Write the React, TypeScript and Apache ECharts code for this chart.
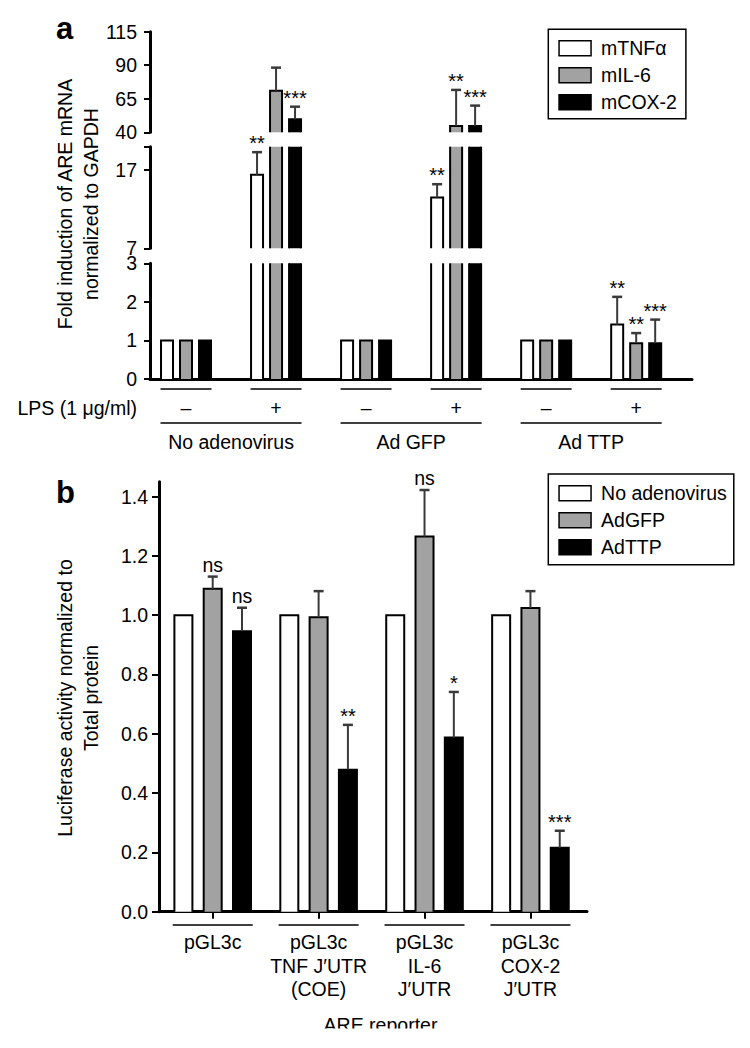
import React, { useEffect, useRef } from "react";
import * as echarts from "echarts";

const FONT = '"Liberation Sans", Arial, Helvetica, sans-serif';
const FS = 19.5;

// ---------- Panel a data ----------
const conditionsA = [0, 1, 2, 3, 4, 5];
const lpsLabels = ["–", "+", "–", "+", "–", "+"];
const adenoGroups = ["No adenovirus", "Ad GFP", "Ad TTP"];
const adenoSpans = [
  [0, 1],
  [2, 3],
  [4, 5],
];
const seriesNamesA = ["mTNFα", "mIL-6", "mCOX-2"];
const tnfValues = [1, 16.4, 1, 13.5, 1, 1.41];
const tnfErrTop = [null, 19.3, null, 15.2, null, 2.13];
const tnfSig = ["", "**", "", "**", "", "**"];
const il6Values = [1, 71, 1, 44.7, 1, 0.93];
const il6ErrTop = [null, 88.2, null, 71.6, null, 1.19];
const il6Sig = ["", "", "", "**", "", "**"];
const coxValues = [1, 49.7, 1, 44.7, 1, 0.93];
const coxErrTop = [null, 59.1, null, 59.9, null, 1.54];
const coxSig = ["", "***", "", "***", "", "***"];

// broken axis segments (top, middle, bottom)
const segTopRange = [40, 115];
const segTopTicks = [40, 65, 90, 115];
const segMidRange = [7, 20];
const segMidTicks = [7, 17, 20];
const segMidLabels = [7, 17];
const segLowRange = [0, 3];
const segLowTicks = [0, 1, 2, 3];

// ---------- Panel b data ----------
const reportersB = [
  "pGL3c",
  "pGL3c\nTNF J′UTR\n(COE)",
  "pGL3c\nIL-6\nJ′UTR",
  "pGL3c\nCOX-2\nJ′UTR",
];
const seriesNamesB = ["No adenovirus", "AdGFP", "AdTTP"];
const noAdenoB = [1, 1, 1, 1];
const noAdenoErrB = [null, null, null, null];
const noAdenoSigB = ["", "", "", ""];
const adGfpB = [1.089, 0.993, 1.265, 1.024];
const adGfpErrB = [1.13, 1.081, 1.422, 1.081];
const adGfpSigB = ["ns", "", "ns", ""];
const adTtpB = [0.946, 0.479, 0.587, 0.2155];
const adTtpErrB = [1.025, 0.63, 0.741, 0.273];
const adTtpSigB = ["ns", "**", "*", "***"];
const yTicksB = [0, 0.2, 0.4, 0.6, 0.8, 1.0, 1.2, 1.4];
const yRangeB = [0, 1.45];

const FILLS = ["#ffffff", "#a2a2a2", "#000000"];
const ERR_COLOR = "#3a3a3a";

function txtStyle(text: string, size: number, align: string, vAlign: string, extra: any = {}) {
  return {
    text,
    fill: "#000",
    fontSize: size,
    fontFamily: FONT,
    align,
    verticalAlign: vAlign,
    textAlign: align,
    textVerticalAlign: vAlign,
    ...extra,
  };
}

function makeBarRender(offset: number, width: number, fill: string, sig: string[]) {
  return (params: any, api: any) => {
    const cs = params.coordSys;
    const top = cs.y;
    const bottom = cs.y + cs.height;
    const i = api.value(0);
    const v = api.value(1);
    const e = api.value(2);
    const p = api.coord([i, v]);
    const cx = p[0] + offset;
    const yv = p[1];
    const l = cx - width / 2;
    const r = cx + width / 2;
    const clamp = (y: number) => Math.min(bottom, Math.max(top, y));
    const children: any[] = [];
    const outline = { stroke: "#000", lineWidth: 2, fill: "none" };
    if (yv < bottom - 0.5) {
      const yt = clamp(yv);
      children.push({
        type: "rect",
        shape: { x: l, y: yt, width, height: bottom - yt },
        style: { fill },
      });
      if (yv >= top) {
        children.push({
          type: "polyline",
          shape: { points: [[l, bottom], [l, yv], [r, yv], [r, bottom]] },
          style: outline,
        });
      } else {
        children.push({ type: "line", shape: { x1: l, y1: bottom, x2: l, y2: top }, style: outline });
        children.push({ type: "line", shape: { x1: r, y1: bottom, x2: r, y2: top }, style: outline });
      }
    }
    let labelY: number | null = yv >= top && yv <= bottom ? yv : null;
    if (Number.isFinite(e)) {
      const ye = api.coord([i, e])[1];
      const a = clamp(yv);
      const b = clamp(ye);
      if (a - b > 0.5) {
        children.push({
          type: "line",
          shape: { x1: cx, y1: a, x2: cx, y2: b },
          style: { stroke: ERR_COLOR, lineWidth: 2 },
        });
      }
      if (ye >= top && ye <= bottom) {
        children.push({
          type: "line",
          shape: { x1: cx - 5, y1: ye, x2: cx + 5, y2: ye },
          style: { stroke: ERR_COLOR, lineWidth: 2.5 },
        });
        labelY = ye;
      } else {
        labelY = null;
      }
    }
    const s = sig[params.dataIndex];
    if (s && labelY !== null) {
      const isStar = s.indexOf("*") >= 0;
      children.push({
        type: "text",
        x: cx,
        y: labelY + (isStar ? 1 : -2),
        style: txtStyle(s, isStar ? 20 : FS, "center", "bottom"),
      });
    }
    return { type: "group", children };
  };
}

function buildOption() {
  const specsA = [
    { name: seriesNamesA[0], values: tnfValues, errs: tnfErrTop, sig: tnfSig },
    { name: seriesNamesA[1], values: il6Values, errs: il6ErrTop, sig: il6Sig },
    { name: seriesNamesA[2], values: coxValues, errs: coxErrTop, sig: coxSig },
  ];
  const specsB = [
    { name: seriesNamesB[0], values: noAdenoB, errs: noAdenoErrB, sig: noAdenoSigB },
    { name: seriesNamesB[1], values: adGfpB, errs: adGfpErrB, sig: adGfpSigB },
    { name: seriesNamesB[2], values: adTtpB, errs: adTtpErrB, sig: adTtpSigB },
  ];
  const offsetsA = [-19, 0, 19];
  const offsetsB = [-29.3, 0, 29.3];
  const segs = [
    { range: segTopRange, ticks: segTopTicks, labels: segTopTicks },
    { range: segMidRange, ticks: segMidTicks, labels: segMidLabels },
    { range: segLowRange, ticks: segLowTicks, labels: segLowTicks },
  ];

  const grid = [
    { left: 150, top: 31.7, width: 542, height: 100.6 },
    { left: 150, top: 146.7, width: 542, height: 101.6 },
    { left: 150, top: 263.3, width: 542, height: 115.7 },
    { left: 159, top: 481.7, width: 428, height: 430 },
  ];

  const xAxis: any[] = segs.map((_, k) => ({
    type: "value",
    gridIndex: k,
    min: -0.4,
    max: 5.62,
    show: k === 2,
    axisLine: { show: true, onZero: false, lineStyle: { color: "#000", width: 3 } },
    axisTick: { show: false },
    axisLabel: { show: false },
    splitLine: { show: false },
  }));
  xAxis.push({
    type: "value",
    gridIndex: 3,
    min: -0.507,
    max: 3.534,
    axisLine: { show: true, onZero: false, lineStyle: { color: "#000", width: 3 } },
    axisTick: {
      show: true,
      customValues: reportersB.map((_, i) => i),
      length: 7,
      lineStyle: { color: "#000", width: 2 },
    },
    axisLabel: {
      customValues: reportersB.map((_, i) => i),
      formatter: (v: number) => reportersB[Math.round(v)],
      margin: 19,
      fontSize: FS,
      lineHeight: 23.3,
      fontFamily: FONT,
      color: "#000",
    },
    splitLine: { show: false },
  });

  const yAxis: any[] = segs.map((seg, k) => ({
    type: "value",
    gridIndex: k,
    min: seg.range[0],
    max: seg.range[1],
    axisLine: { show: true, onZero: false, lineStyle: { color: "#000", width: 3 } },
    axisTick: { show: true, customValues: seg.ticks, length: 6, lineStyle: { color: "#000", width: 2 } },
    axisLabel: {
      customValues: seg.labels,
      margin: 13,
      fontSize: FS,
      lineHeight: 14,
      fontFamily: FONT,
      color: "#000",
    },
    splitLine: { show: false },
  }));
  yAxis.push({
    type: "value",
    gridIndex: 3,
    min: yRangeB[0],
    max: yRangeB[1],
    axisLine: { show: true, onZero: false, lineStyle: { color: "#000", width: 3 } },
    axisTick: { show: true, customValues: yTicksB, length: 7, lineStyle: { color: "#000", width: 2 } },
    axisLabel: {
      customValues: yTicksB,
      formatter: (v: number) => v.toFixed(1),
      margin: 11,
      fontSize: FS,
      fontFamily: FONT,
      color: "#000",
    },
    splitLine: { show: false },
  });

  const series: any[] = [];
  segs.forEach((_, k) => {
    specsA.forEach((sp, s) => {
      series.push({
        type: "custom",
        name: sp.name,
        xAxisIndex: k,
        yAxisIndex: k,
        silent: true,
        clip: false,
        itemStyle: { color: FILLS[s], borderColor: "#000" },
        renderItem: makeBarRender(offsetsA[s], 12, FILLS[s], sp.sig),
        data: conditionsA.map((i) => [i, sp.values[i], sp.errs[i] == null ? "-" : sp.errs[i]]),
      });
    });
  });

  // LPS +/- row under panel a
  series.push({
    type: "custom",
    name: "lps",
    xAxisIndex: 2,
    yAxisIndex: 2,
    silent: true,
    clip: false,
    data: conditionsA.map((i) => [i, 0]),
    renderItem: (params: any, api: any) => {
      const p = api.coord([api.value(0), api.value(1)]);
      return {
        type: "group",
        children: [
          {
            type: "line",
            shape: { x1: p[0] - 25.5, y1: p[1] + 10, x2: p[0] + 25.5, y2: p[1] + 10 },
            style: { stroke: "#000", lineWidth: 1.5 },
          },
          {
            type: "text",
            x: p[0],
            y: p[1] + 29,
            style: txtStyle(lpsLabels[params.dataIndex], FS, "center", "middle"),
          },
        ],
      };
    },
  });
  // Adenovirus groups under panel a
  series.push({
    type: "custom",
    name: "adeno",
    xAxisIndex: 2,
    yAxisIndex: 2,
    silent: true,
    clip: false,
    data: adenoSpans.map(([a, b]) => [a, 0, b]),
    renderItem: (params: any, api: any) => {
      const pa = api.coord([api.value(0), api.value(1)]);
      const pb = api.coord([api.value(2), api.value(1)]);
      return {
        type: "group",
        children: [
          {
            type: "line",
            shape: { x1: pa[0] - 25.5, y1: pa[1] + 44, x2: pb[0] + 25.5, y2: pa[1] + 44 },
            style: { stroke: "#000", lineWidth: 1.5 },
          },
          {
            type: "text",
            x: (pa[0] + pb[0]) / 2,
            y: pa[1] + 63,
            style: txtStyle(adenoGroups[params.dataIndex], FS, "center", "middle"),
          },
        ],
      };
    },
  });

  specsB.forEach((sp, s) => {
    series.push({
      type: "custom",
      name: sp.name,
      xAxisIndex: 3,
      yAxisIndex: 3,
      silent: true,
      clip: false,
      itemStyle: { color: FILLS[s], borderColor: "#000" },
      renderItem: makeBarRender(offsetsB[s], 18, FILLS[s], sp.sig),
      data: sp.values.map((v, i) => [i, v, sp.errs[i] == null ? "-" : sp.errs[i]]),
    });
  });
  // underlines below panel b categories
  series.push({
    type: "custom",
    name: "reporterLines",
    xAxisIndex: 3,
    yAxisIndex: 3,
    silent: true,
    clip: false,
    data: reportersB.map((_, i) => [i, 0]),
    renderItem: (params: any, api: any) => {
      const p = api.coord([api.value(0), api.value(1)]);
      return {
        type: "line",
        shape: { x1: p[0] - 40, y1: p[1] + 13.3, x2: p[0] + 40, y2: p[1] + 13.3 },
        style: { stroke: "#000", lineWidth: 1.5 },
      };
    },
  });

  const legendBase = {
    orient: "vertical",
    icon: "rect",
    itemWidth: 32,
    itemHeight: 15,
    itemGap: 7,
    borderColor: "#000",
    borderWidth: 1.5,
    selectedMode: false,
    textStyle: {
      fontSize: FS,
      fontFamily: FONT,
      color: "#000",
      padding: [0, 0, 0, 5],
    },
  };

  const legend = [
    {
      ...legendBase,
      left: 548.3,
      top: 29.3,
      padding: [9, 9, 6.5, 10],
      data: seriesNamesA.map((n, k) => ({
        name: n,
        itemStyle: { color: FILLS[k], borderColor: "#000", borderWidth: 1.5 },
      })),
    },
    {
      ...legendBase,
      left: 548.3,
      top: 474,
      padding: [9.2, 7, 7.5, 10],
      data: seriesNamesB.map((n, k) => ({
        name: n,
        itemStyle: { color: FILLS[k], borderColor: "#000", borderWidth: 1.5 },
      })),
    },
  ];

  const graphic = [
    { type: "text", x: 56, y: 28.8, style: txtStyle("a", 31, "left", "middle", { fontWeight: "bold" }) },
    { type: "text", x: 56, y: 492.3, style: txtStyle("b", 31, "left", "middle", { fontWeight: "bold" }) },
    {
      type: "text",
      x: 78,
      y: 204,
      rotation: Math.PI / 2,
      style: txtStyle("Fold induction of ARE mRNA\nnormalized to GAPDH", FS, "center", "middle", {
        lineHeight: 26,
      }),
    },
    {
      type: "text",
      x: 77.5,
      y: 698,
      rotation: Math.PI / 2,
      style: txtStyle("Luciferase activity normalized to\nTotal protein", FS, "center", "middle", {
        lineHeight: 26,
      }),
    },
    { type: "text", x: 137, y: 408, style: txtStyle("LPS (1 μg/ml)", FS, "right", "middle") },
    { type: "text", x: 380.5, y: 1025, style: txtStyle("ARE reporter", FS, "center", "middle") },
    { type: "rect", shape: { x: 0, y: 1028.5, width: 750, height: 30 }, style: { fill: "#fff" }, z: 100 },
  ];

  return {
    animation: false,
    backgroundColor: "#fff",
    grid,
    xAxis,
    yAxis,
    legend,
    series,
    graphic,
  };
}

export default function App() {
  const ref = useRef<HTMLDivElement>(null);
  useEffect(() => {
    document.body.style.margin = "0";
    const chart = echarts.init(ref.current as HTMLDivElement, null, { renderer: "svg" });
    chart.setOption(buildOption() as any);
    return () => chart.dispose();
  }, []);
  return <div ref={ref} style={{ width: 750, height: 1048 }} />;
}
